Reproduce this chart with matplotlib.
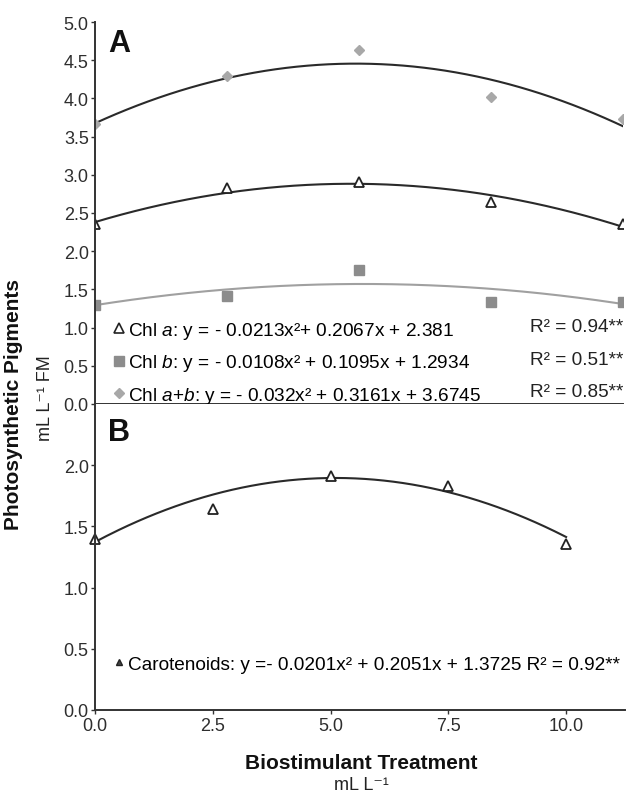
import numpy as np
import matplotlib
matplotlib.use("Agg")
import matplotlib.pyplot as plt
from matplotlib.lines import Line2D

plt.rcParams["font.family"] = ["Liberation Sans", "DejaVu Sans"]
plt.rcParams["mathtext.fontset"] = "custom"
plt.rcParams["mathtext.rm"] = "Liberation Sans"
plt.rcParams["mathtext.it"] = "Liberation Sans:italic"
plt.rcParams["mathtext.bf"] = "Liberation Sans:bold"

# --------------------------------------------------
# 1. DATA
# --------------------------------------------------

doses = [0.0, 2.5, 5.0, 7.5, 10.0]

chl_a = [2.35, 2.83, 2.90, 2.65, 2.35]
chl_b = [1.29, 1.42, 1.75, 1.34, 1.34]
chl_ab = [3.665, 4.29, 4.64, 4.02, 3.73]
carotenoids = [1.40, 1.645, 1.91, 1.83, 1.36]

# quadratic fits printed on the chart (a2, a1, a0)
coef_chl_a = [-0.0213, 0.2067, 2.381]
coef_chl_b = [-0.0108, 0.1095, 1.2934]
coef_chl_ab = [-0.032, 0.3161, 3.6745]
coef_carot = [-0.0201, 0.2051, 1.3725]

label_chl_a = "Chl $\\it{a}$: y = - 0.0213x\u00b2+ 0.2067x + 2.381"
label_chl_b = "Chl $\\it{b}$: y = - 0.0108x\u00b2 + 0.1095x + 1.2934"
label_chl_ab = "Chl $\\it{a}$+$\\it{b}$: y = - 0.032x\u00b2 + 0.3161x + 3.6745"
label_carot = "Carotenoids: y =- 0.0201x\u00b2 + 0.2051x + 1.3725 R\u00b2 = 0.92**"
r2_labels = ["R\u00b2 = 0.94**", "R\u00b2 = 0.51**", "R\u00b2 = 0.85**"]

x_ticks_b = [0.0, 2.5, 5.0, 7.5, 10.0]

# --------------------------------------------------
# 2. FIGURE
# --------------------------------------------------

W, H = 627, 803
fig = plt.figure(figsize=(W / 100, H / 100), dpi=100)
axA = fig.add_axes([95 / W, 1 - 405 / H, 528 / W, 382 / H])
axB = fig.add_axes([95 / W, 1 - 711 / H, 530 / W, 306 / H])

spine_col = "#333333"
tick_col = "#2e2e2e"
eq_size = 13.7
xs = np.linspace(0, 10, 200)

for ax in (axA, axB):
    for side in ("top", "right"):
        ax.spines[side].set_visible(False)
    for side in ("left", "bottom"):
        ax.spines[side].set_color(spine_col)
        ax.spines[side].set_linewidth(1.4)
    ax.tick_params(axis="both", direction="out", length=3, width=1.0,
                   color=spine_col, labelsize=13, labelcolor=tick_col, pad=1.5)

# --------------------------------------------------
# 3. PANEL A - CHLOROPHYLLS
# --------------------------------------------------

axA.plot(xs, np.polyval(coef_chl_ab, xs), color="#2a2a2a", lw=1.5)
axA.plot(xs, np.polyval(coef_chl_a, xs), color="#2a2a2a", lw=1.5)
axA.plot(xs, np.polyval(coef_chl_b, xs), color="#a0a0a0", lw=1.5)

axA.plot(doses, chl_ab, linestyle="none", marker="D", ms=5.5,
         color="#a8a8a8", mec="#a8a8a8")
axA.plot(doses, chl_a, linestyle="none", marker="^", ms=7,
         mfc="white", mec="#222222", mew=1.3)
axA.plot(doses, chl_b, linestyle="none", marker="s", ms=7,
         color="#8c8c8c", mec="#8c8c8c")

axA.set_xlim(0, 10)
axA.set_ylim(0, 5)
axA.set_xticks(doses)
axA.set_xticklabels([])
axA.set_yticks(np.arange(0, 5.01, 0.5))
axA.set_yticklabels([f"{v:.1f}" for v in np.arange(0, 5.01, 0.5)])

handles_a = [
    Line2D([], [], linestyle="none", marker="^", ms=6.5, mfc="white",
           mec="#222222", mew=1.2),
    Line2D([], [], linestyle="none", marker="s", ms=6.5, color="#8c8c8c"),
    Line2D([], [], linestyle="none", marker="D", ms=5, color="#a8a8a8"),
]
axA.legend(handles_a, [label_chl_a, label_chl_b, label_chl_ab],
           loc="center left", bbox_to_anchor=(0.035, 0.108),
           frameon=False, fontsize=eq_size, handlelength=0.6,
           handletextpad=0.15, labelspacing=0.6, borderpad=0.0,
           borderaxespad=0)

for yv, txt in zip([1.01, 0.585, 0.165], r2_labels):
    axA.text(10.0, yv, txt, ha="right", va="center", fontsize=eq_size,
             color="#222222")

axA.text(0.25, 4.72, "A", fontsize=22, fontweight="bold", va="center",
         color="#111111")

# --------------------------------------------------
# 4. PANEL B - CAROTENOIDS
# --------------------------------------------------

xs_b = np.linspace(0, 10, 200)
axB.plot(xs_b, np.polyval(coef_carot, xs_b), color="#2a2a2a", lw=1.5)
axB.plot(doses, carotenoids, linestyle="none", marker="^", ms=7,
         mfc="white", mec="#222222", mew=1.3, clip_on=False)

axB.set_xlim(0, 11.25)
axB.set_ylim(0, 2.5)
axB.set_xticks(x_ticks_b)
axB.set_xticklabels([f"{v:.1f}" for v in x_ticks_b])
axB.set_yticks(np.arange(0, 2.01, 0.5))
axB.set_yticklabels([f"{v:.1f}" for v in np.arange(0, 2.01, 0.5)])
axB.tick_params(axis="x", pad=2)

handles_b = [Line2D([], [], linestyle="none", marker="^", ms=5,
                    mfc="#444444", mec="#222222", mew=1.0)]
axB.legend(handles_b, [label_carot], loc="center left",
           bbox_to_anchor=(0.035, 0.15), frameon=False, fontsize=eq_size,
           handlelength=0.6, handletextpad=0.15, borderpad=0.0,
           borderaxespad=0)

axB.text(0.28, 2.27, "B", fontsize=22, fontweight="bold", va="center",
         color="#111111")

# --------------------------------------------------
# 5. AXIS TITLES
# --------------------------------------------------

fig.text(361 / W, 1 - 764 / H, "Biostimulant Treatment", ha="center",
         va="center", fontsize=15, fontweight="bold", color="#111111")
fig.text(361 / W, 1 - 786 / H, "mL L\u207b\u00b9", ha="center", va="center",
         fontsize=13, color="#222222")

fig.text(14 / W, 1 - 405 / H, "Photosynthetic Pigments", rotation=90,
         ha="center", va="center", fontsize=15, fontweight="bold",
         color="#111111")
fig.text(45 / W, 1 - 398 / H, "mL L\u207b\u00b9 FM", rotation=90, ha="center",
         va="center", fontsize=13, color="#222222")

fig.savefig("out.png", dpi=100)
